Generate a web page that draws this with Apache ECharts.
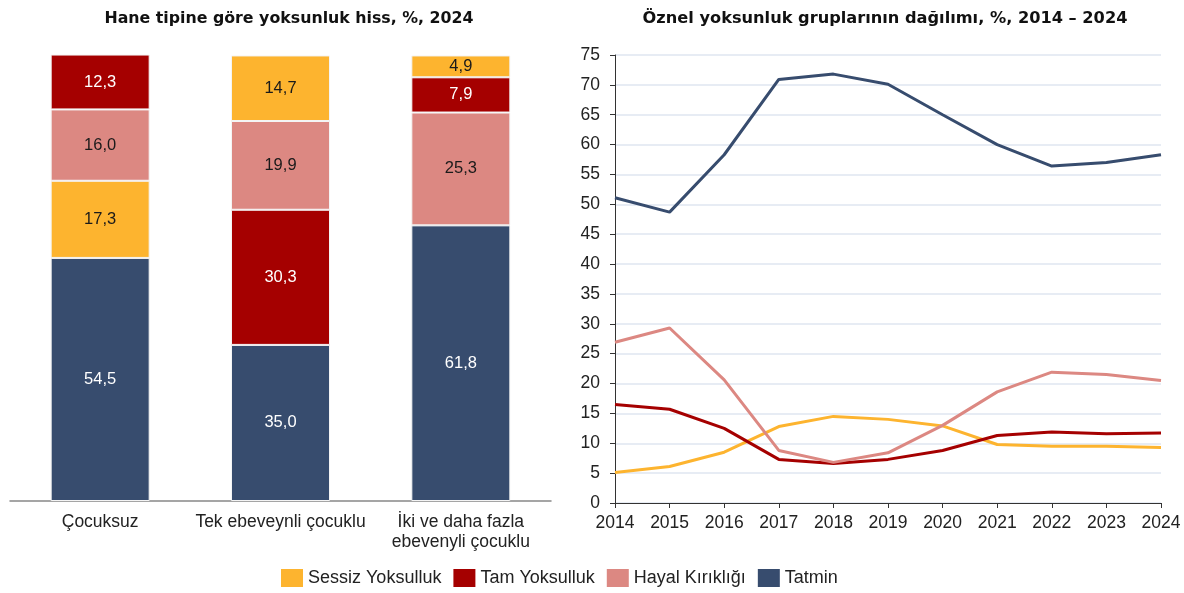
<!DOCTYPE html>
<html>
<head>
<meta charset="utf-8">
<script src="https://cdn.jsdelivr.net/npm/echarts@6/dist/echarts.min.js"></script>
<style>
  html, body { margin: 0; padding: 0; background: #fff; }
  #chart { width: 1184px; height: 593px; }
</style>
</head>
<body>
<div id="chart"></div>
<script>
// series names, colours
var groupNames = ['Sessiz Yoksulluk', 'Tam Yoksulluk', 'Hayal Kırıklığı', 'Tatmin'];
var groupColors = ['#fdb42f', '#a50000', '#dc8882', '#374c6e'];
var labelColors = ['#1a1a1a', '#ffffff', '#1a1a1a', '#ffffff'];

// left: hane tipine göre, 2024
var barCategories = ['Çocuksuz', 'Tek ebeveynli çocuklu', 'İki ve daha fazla\nebevenyli çocuklu'];
var barSessiz = [17.3, 14.7, 4.9];
var barTam = [12.3, 30.3, 7.9];
var barHayal = [16.0, 19.9, 25.3];
var barTatmin = [54.5, 35.0, 61.8];

// right: 2014 - 2024
var years = ['2014', '2015', '2016', '2017', '2018', '2019', '2020', '2021', '2022', '2023', '2024'];
var lineSessiz = [5.1, 6.1, 8.5, 12.8, 14.5, 14.0, 12.9, 9.8, 9.5, 9.5, 9.3];
var lineTam = [16.5, 15.7, 12.5, 7.3, 6.6, 7.3, 8.8, 11.3, 11.9, 11.6, 11.7];
var lineHayal = [26.9, 29.3, 20.6, 8.8, 6.8, 8.4, 13.0, 18.6, 21.9, 21.5, 20.5];
var lineTatmin = [51.1, 48.7, 58.3, 70.9, 71.8, 70.1, 65.0, 60.0, 56.4, 57.0, 58.3];

var FONT = '"Liberation Sans", Arial, sans-serif';
var TFONT = '"DejaVu Sans", Verdana, sans-serif';
var fmt = function (v) { return v.toFixed(1).replace('.', ','); };

// each bar is stacked largest at the bottom, so build one series per rank
var barGroups = [barSessiz, barTam, barHayal, barTatmin];
var rankSeries = [[], [], [], []];
barCategories.forEach(function (c, i) {
    var items = barGroups.map(function (arr, g) { return { g: g, v: arr[i] }; });
    items.sort(function (a, b) { return b.v - a.v; });
    items.forEach(function (it, r) {
        rankSeries[r].push({
            value: it.v,
            itemStyle: { color: groupColors[it.g] },
            label: { color: labelColors[it.g] }
        });
    });
});

var series = rankSeries.map(function (data, r) {
    return {
        name: 'rank' + r,
        type: 'bar',
        stack: 'hane',
        xAxisIndex: 0,
        yAxisIndex: 0,
        barWidth: 99,
        data: data,
        itemStyle: { borderColor: '#f4f4f4', borderWidth: 1 },
        label: {
            show: true,
            position: 'inside',
            fontFamily: FONT,
            fontSize: 16.5,
            formatter: function (p) { return fmt(p.value); }
        },
        emphasis: { disabled: true }
    };
});

var lineData = [lineSessiz, lineTam, lineHayal, lineTatmin];
lineData.forEach(function (d, g) {
    series.push({
        name: groupNames[g],
        type: 'line',
        xAxisIndex: 1,
        yAxisIndex: 1,
        data: d,
        symbol: 'none',
        color: groupColors[g],
        lineStyle: { width: 3, color: groupColors[g] },
        emphasis: { disabled: true }
    });
});

var myChart = echarts.init(document.getElementById('chart'));

option = {
    backgroundColor: '#ffffff',
    animation: false,
    title: [{
        text: 'Hane tipine göre yoksunluk hiss, %, 2024',
        left: 284,
        top: 6,
        textAlign: 'center',
        textStyle: { fontFamily: TFONT, fontSize: 15.8, fontWeight: 'bold', color: '#111' }
    }, {
        text: 'Öznel yoksunluk gruplarının dağılımı, %, 2014 – 2024',
        left: 880,
        top: 6,
        textAlign: 'center',
        textStyle: { fontFamily: TFONT, fontSize: 16.2, fontWeight: 'bold', color: '#111' }
    }],
    legend: {
        data: groupNames,
        left: 276,
        top: 564,
        icon: 'rect',
        itemWidth: 22,
        itemHeight: 18,
        itemGap: 12,
        textStyle: { fontFamily: FONT, fontSize: 18, color: '#222' }
    },
    grid: [
        { left: 10, top: 55, width: 541, height: 446 },
        { left: 615, top: 55, width: 546, height: 448 }
    ],
    xAxis: [{
        type: 'category',
        gridIndex: 0,
        data: barCategories,
        axisLine: { lineStyle: { color: '#888', width: 1.5 } },
        axisTick: { show: false },
        axisLabel: { interval: 0, fontFamily: FONT, fontSize: 17.5, color: '#222', margin: 11, lineHeight: 20 }
    }, {
        type: 'category',
        gridIndex: 1,
        data: years,
        boundaryGap: false,
        axisLine: { lineStyle: { color: '#333' } },
        axisTick: { show: true, length: 5, lineStyle: { color: '#333' } },
        axisLabel: { interval: 0, fontFamily: FONT, fontSize: 17.5, color: '#222', margin: 11 }
    }],
    yAxis: [{
        type: 'value',
        gridIndex: 0,
        min: 0,
        max: 100,
        show: false
    }, {
        type: 'value',
        gridIndex: 1,
        min: 0,
        max: 75,
        interval: 5,
        axisLine: { show: true, lineStyle: { color: '#333' } },
        axisTick: { show: true, length: 5, lineStyle: { color: '#333' } },
        axisLabel: { fontFamily: FONT, fontSize: 17.5, color: '#222', margin: 15 },
        splitLine: { lineStyle: { color: '#dfe6f0', width: 1.5 } }
    }],
    series: series
};

myChart.setOption(option);
window.addEventListener('resize', function () { myChart.resize(); });
</script>
</body>
</html>
